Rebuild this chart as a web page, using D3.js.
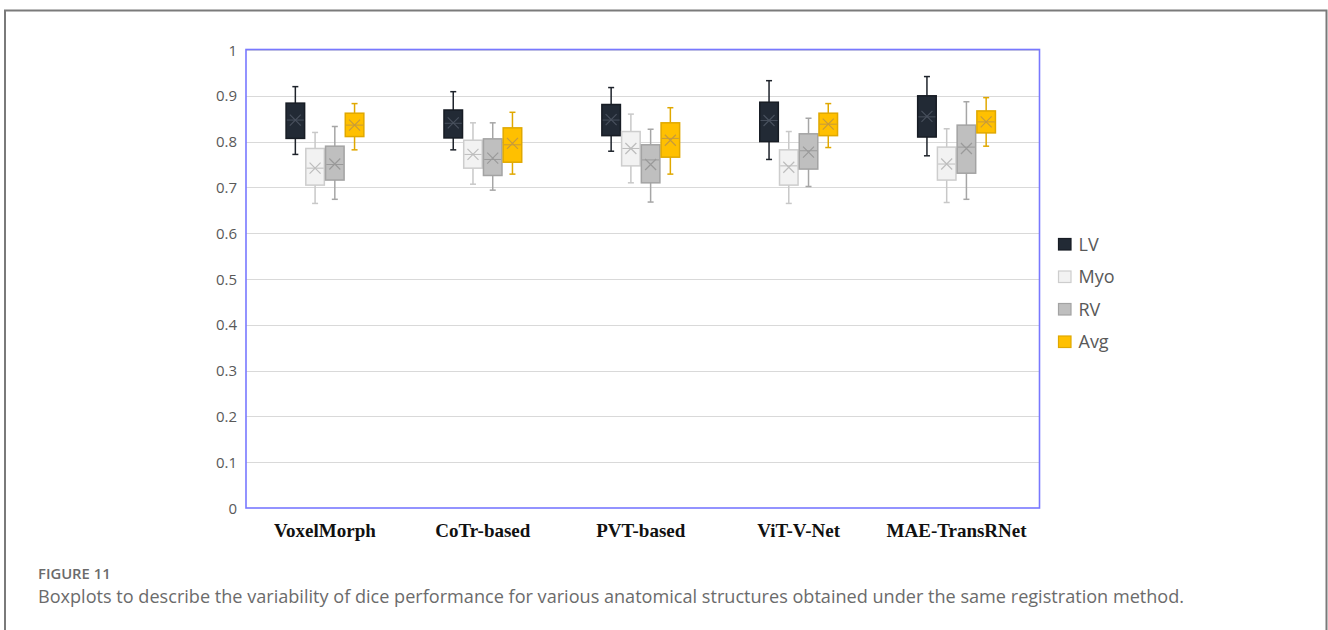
<!DOCTYPE html>
<html>
<head>
<meta charset="utf-8">
<script src="https://cdn.jsdelivr.net/npm/d3@7"></script>
<style>
  html, body { margin: 0; padding: 0; background: #fff; }
  svg { display: block; }
</style>
</head>
<body>
<svg id="chart" width="1328" height="630"></svg>
<script>
// Registration methods (x categories) and anatomical structures (series)
const methods = ["VoxelMorph", "CoTr-based", "PVT-based", "ViT-V-Net", "MAE-TransRNet"];
const structures = ["LV", "Myo", "RV", "Avg"];
const yTicks = [0, 0.1, 0.2, 0.3, 0.4, 0.5, 0.6, 0.7, 0.8, 0.9, 1];

// Dice statistics per method: [min, q1, median, q3, max, mean]
const lvStats = [
  [0.772, 0.807, 0.847, 0.884, 0.920, 0.847],
  [0.782, 0.808, 0.840, 0.869, 0.909, 0.841],
  [0.779, 0.813, 0.847, 0.881, 0.918, 0.848],
  [0.761, 0.800, 0.846, 0.886, 0.933, 0.846],
  [0.769, 0.810, 0.854, 0.900, 0.942, 0.855]
];
const myoStats = [
  [0.665, 0.705, 0.742, 0.785, 0.820, 0.742],
  [0.707, 0.742, 0.772, 0.803, 0.841, 0.772],
  [0.710, 0.747, 0.785, 0.822, 0.860, 0.785],
  [0.665, 0.705, 0.747, 0.782, 0.822, 0.744],
  [0.667, 0.716, 0.751, 0.788, 0.828, 0.751]
];
const rvStats = [
  [0.674, 0.716, 0.750, 0.790, 0.833, 0.751],
  [0.694, 0.726, 0.761, 0.806, 0.841, 0.764],
  [0.668, 0.710, 0.760, 0.793, 0.827, 0.750],
  [0.702, 0.740, 0.780, 0.817, 0.851, 0.777],
  [0.674, 0.731, 0.788, 0.836, 0.887, 0.785]
];
const avgStats = [
  [0.782, 0.811, 0.836, 0.862, 0.883, 0.836],
  [0.729, 0.755, 0.793, 0.830, 0.864, 0.796],
  [0.729, 0.766, 0.807, 0.841, 0.874, 0.803],
  [0.787, 0.813, 0.838, 0.862, 0.883, 0.838],
  [0.790, 0.819, 0.843, 0.867, 0.896, 0.843]
];

const seriesStats = { LV: lvStats, Myo: myoStats, RV: rvStats, Avg: avgStats };

const styles = {
  LV:  { fill: "#222a35", stroke: "#171c24", inner: "#48505d", whisker: "#1e232b" },
  Myo: { fill: "#f2f2f2", stroke: "#cdcdcd", inner: "#bdbdbd", whisker: "#c8c8c8" },
  RV:  { fill: "#bfbfbf", stroke: "#a3a3a3", inner: "#9a9a9a", whisker: "#a6a6a6" },
  Avg: { fill: "#ffc000", stroke: "#e0a800", inner: "#c69a3c", whisker: "#e0a800" }
};

const svg = d3.select("#chart");

// Outer figure frame
svg.append("path")
  .attr("d", "M5,632 L5,10.5 L1326.5,10.5 L1326.5,632")
  .attr("fill", "none")
  .attr("stroke", "#7a7a7a")
  .attr("stroke-width", 2);

const plot = { left: 246, right: 1039.5, top: 49.5, bottom: 508 };

const x = d3.scaleBand().domain(methods).range([246, 1035.5]);
const xInner = d3.scaleBand().domain(structures)
  .range([x.bandwidth() * 0.25, x.bandwidth() * 0.75]);
const y = d3.scaleLinear().domain([0, 1]).range([508, 50]);

// Horizontal gridlines
svg.append("g")
  .selectAll("line")
  .data(yTicks.filter(t => t > 0))
  .join("line")
  .attr("x1", plot.left)
  .attr("x2", plot.right)
  .attr("y1", d => Math.round(y(d)) + 0.5)
  .attr("y2", d => Math.round(y(d)) + 0.5)
  .attr("stroke", "#d9d9d9")
  .attr("stroke-width", 1);

// Y axis labels
const yAxis = d3.axisLeft(y).tickValues(yTicks).tickSize(0).tickPadding(0)
  .tickFormat(d => d3.format("~g")(d));
const yAxisG = svg.append("g")
  .attr("transform", "translate(237,0)")
  .call(yAxis);
yAxisG.select(".domain").remove();
yAxisG.selectAll("text")
  .attr("font-family", "'Open Sans', sans-serif")
  .attr("font-size", 15)
  .attr("fill", "#595959")
  .attr("dy", "0.34em");

// Box plots
const boxW = xInner.bandwidth() * 0.94;
const capW = 6;
const markR = 5.5;

structures.forEach(s => {
  const st = styles[s];
  const g = svg.append("g").attr("class", "series-" + s);
  seriesStats[s].forEach((v, i) => {
    const [mn, q1, med, q3, mx, mean] = v;
    const cx = x(methods[i]) + xInner(s) + xInner.bandwidth() / 2;
    const b = g.append("g");
    // whiskers
    b.append("line")
      .attr("x1", cx).attr("x2", cx)
      .attr("y1", y(mx)).attr("y2", y(q3))
      .attr("stroke", st.whisker).attr("stroke-width", 1.5);
    b.append("line")
      .attr("x1", cx).attr("x2", cx)
      .attr("y1", y(q1)).attr("y2", y(mn))
      .attr("stroke", st.whisker).attr("stroke-width", 1.5);
    [mx, mn].forEach(val => {
      b.append("line")
        .attr("x1", cx - capW / 2).attr("x2", cx + capW / 2)
        .attr("y1", y(val)).attr("y2", y(val))
        .attr("stroke", st.whisker).attr("stroke-width", 1.5);
    });
    // box
    b.append("rect")
      .attr("x", cx - boxW / 2)
      .attr("y", y(q3))
      .attr("width", boxW)
      .attr("height", y(q1) - y(q3))
      .attr("fill", st.fill)
      .attr("stroke", st.stroke)
      .attr("stroke-width", 1.5);
    // median
    b.append("line")
      .attr("x1", cx - boxW / 2 + 0.75).attr("x2", cx + boxW / 2 - 0.75)
      .attr("y1", y(med)).attr("y2", y(med))
      .attr("stroke", st.inner).attr("stroke-width", 1);
    // mean marker (x)
    const my = y(mean);
    b.append("path")
      .attr("d", `M${cx - markR},${my - markR}L${cx + markR},${my + markR}M${cx - markR},${my + markR}L${cx + markR},${my - markR}`)
      .attr("stroke", st.inner).attr("stroke-width", 1.2).attr("fill", "none");
  });
});

// Plot area border
svg.append("rect")
  .attr("x", plot.left)
  .attr("y", plot.top)
  .attr("width", plot.right - plot.left)
  .attr("height", plot.bottom - plot.top)
  .attr("fill", "none")
  .attr("stroke", "#7878ff")
  .attr("stroke-width", 1.6);

// X axis category labels
const xAxis = d3.axisBottom(x).tickSize(0).tickPadding(0);
const xAxisG = svg.append("g")
  .attr("transform", "translate(0,537)")
  .call(xAxis);
xAxisG.select(".domain").remove();
xAxisG.selectAll("text")
  .attr("font-family", "'Liberation Serif', 'Times New Roman', serif")
  .attr("font-weight", "bold")
  .attr("font-size", 19)
  .attr("fill", "#111")
  .attr("dy", 0)
  .attr("y", 0);

// Legend
const legend = svg.append("g").attr("transform", "translate(1058.5,238.5)");
structures.forEach((s, i) => {
  const row = legend.append("g").attr("transform", `translate(0,${i * 32.5})`);
  row.append("rect")
    .attr("width", 12.5).attr("height", 11.5)
    .attr("fill", styles[s].fill)
    .attr("stroke", styles[s].stroke)
    .attr("stroke-width", 1.2);
  row.append("text")
    .attr("x", 20)
    .attr("y", 6)
    .attr("dy", "0.36em")
    .attr("font-family", "'Open Sans', sans-serif")
    .attr("font-size", 18)
    .attr("fill", "#595959")
    .text(s);
});

// Caption
svg.append("text")
  .attr("x", 38)
  .attr("y", 579)
  .attr("font-family", "'Open Sans', sans-serif")
  .attr("font-weight", 600)
  .attr("font-size", 14.8)
  .attr("fill", "#6b6b6b")
  .text("FIGURE 11");
svg.append("text")
  .attr("x", 38)
  .attr("y", 603)
  .attr("font-family", "'Open Sans', sans-serif")
  .attr("font-size", 18.1)
  .attr("fill", "#6b6b6b")
  .text("Boxplots to describe the variability of dice performance for various anatomical structures obtained under the same registration method.");
</script>
</body>
</html>
